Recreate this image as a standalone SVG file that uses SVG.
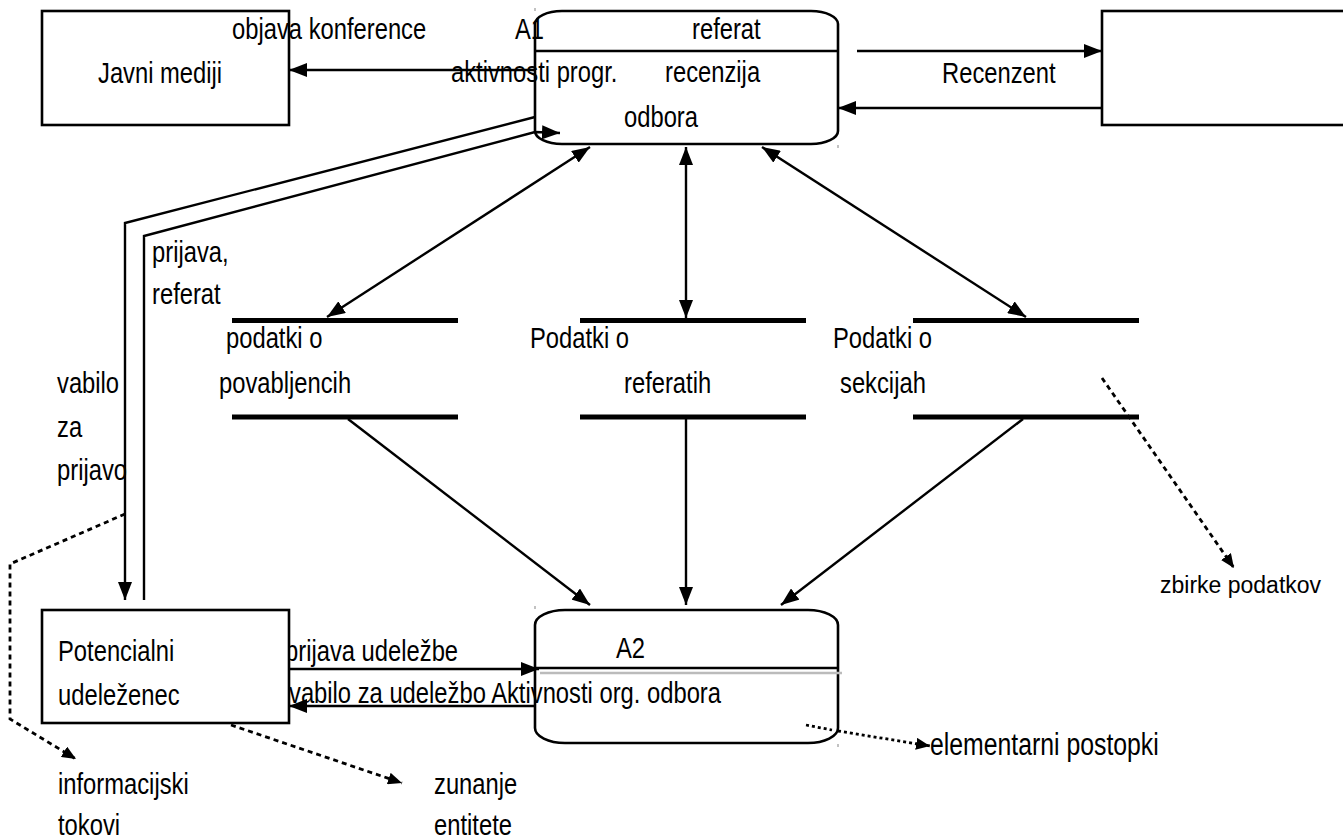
<svg xmlns="http://www.w3.org/2000/svg" width="1343" height="839" viewBox="0 0 1343 839">
<defs>
<marker id="ah" markerUnits="userSpaceOnUse" markerWidth="18" markerHeight="14" refX="18" refY="7" orient="auto-start-reverse" viewBox="0 0 18 14">
<path d="M0,0 L18,7 L0,14 Z" fill="#000"/>
</marker>
<marker id="ahs" markerUnits="userSpaceOnUse" markerWidth="14" markerHeight="12" refX="14" refY="6" orient="auto" viewBox="0 0 14 12">
<path d="M0,0 L14,6 L0,12 Z" fill="#000"/>
</marker>
<style>
.t{font-family:"Liberation Sans",Arial,sans-serif;font-size:29px;fill:#000}
.ts{font-family:"Liberation Sans",Arial,sans-serif;font-size:23px;fill:#000}
.box{fill:#fff;stroke:#000;stroke-width:2.6}
.proc{fill:none;stroke:#000;stroke-width:2.6}
.div{stroke:#000;stroke-width:2.6}
.bar{stroke:#000;stroke-width:5}
.f{fill:none;stroke:#000;stroke-width:2.4}
.a{marker-end:url(#ah)}
.b{marker-start:url(#ah);marker-end:url(#ah)}
.d{fill:none;stroke:#000;stroke-width:2.8;stroke-dasharray:5 4;marker-end:url(#ahs)}
.dt{fill:none;stroke:#000;stroke-width:2.8;stroke-dasharray:3 3;marker-end:url(#ahs)}
.tick{stroke:#999;stroke-width:1.2}
</style>
</defs>
<rect width="1343" height="839" fill="#fff"/>

<g id="javni-mediji">
<rect class="box" x="42" y="11" width="247" height="114"/>
<text class="t" transform="translate(98 83) scale(0.82 1)">Javni mediji</text>
</g>

<g id="recenzent">
<rect class="box" x="1102" y="11" width="260" height="114"/>
</g>

<g id="connector-labels">
<text class="t" transform="translate(232 39) scale(0.82 1)">objava konference</text>
<text class="t" transform="translate(942 83) scale(0.82 1)">Recenzent</text>
<text class="t" transform="translate(152 262) scale(0.82 1)">prijava,</text>
<text class="t" transform="translate(152 304) scale(0.82 1)">referat</text>
<text class="t" transform="translate(57 393) scale(0.82 1)">vabilo</text>
<text class="t" transform="translate(57 437) scale(0.82 1)">za</text>
<text class="t" transform="translate(57 480) scale(0.82 1)">prijavo</text>
<text class="t" transform="translate(285 661) scale(0.82 1)">prijava udeležbe</text>
<text class="t" transform="translate(289 703) scale(0.82 1)">vabilo za udeležbo Aktivnosti org. odbora</text>
</g>

<g id="a1">
<rect class="proc" x="535" y="11" width="303" height="133" rx="27" ry="13"/>
<line class="div" x1="535" y1="51" x2="838" y2="51"/>
<text class="t" transform="translate(515 39) scale(0.82 1)">A1</text>
<text class="t" transform="translate(692 39) scale(0.82 1)">referat</text>
<text class="t" transform="translate(451 82) scale(0.82 1)">aktivnosti progr.</text>
<text class="t" transform="translate(665 82) scale(0.82 1)">recenzija</text>
<text class="t" transform="translate(624 127) scale(0.82 1)">odbora</text>
<line class="tick" x1="535" y1="8" x2="535" y2="11"/>
<line class="tick" x1="838" y1="145" x2="838" y2="148"/>
</g>

<g id="store-povabljenci">
<line class="bar" x1="232" y1="320.5" x2="458" y2="320.5"/>
<line class="bar" x1="232" y1="417" x2="458" y2="417"/>
<text class="t" transform="translate(226 348) scale(0.82 1)">podatki o</text>
<text class="t" transform="translate(219 393) scale(0.82 1)">povabljencih</text>
</g>

<g id="store-referati">
<line class="bar" x1="580" y1="320.5" x2="806" y2="320.5"/>
<line class="bar" x1="580" y1="417" x2="806" y2="417"/>
<text class="t" transform="translate(530 348) scale(0.82 1)">Podatki o</text>
<text class="t" transform="translate(624 393) scale(0.82 1)">referatih</text>
</g>

<g id="store-sekcije">
<line class="bar" x1="913" y1="320.5" x2="1139" y2="320.5"/>
<line class="bar" x1="913" y1="417" x2="1139" y2="417"/>
<text class="t" transform="translate(833 348) scale(0.82 1)">Podatki o</text>
<text class="t" transform="translate(840 393) scale(0.82 1)">sekcijah</text>
</g>

<g id="a2">
<rect class="proc" x="535" y="610" width="303" height="133" rx="30" ry="15"/>
<line class="div" x1="535" y1="668" x2="838" y2="668"/>
<line stroke="#bbb" stroke-width="2.5" x1="540" y1="673" x2="842" y2="673"/>
<text class="t" transform="translate(616 658) scale(0.82 1)">A2</text>
<line class="tick" x1="535" y1="606" x2="535" y2="609"/>
<line class="tick" x1="838" y1="744" x2="838" y2="747"/>
</g>

<g id="connectors">
<path class="f a" d="M535,70 L289,70"/>
<path class="f a" d="M857,51 L1102,51"/>
<path class="f a" d="M1102,108 L838,108"/>
<path class="f a" d="M535,117 L125,223 L125,600"/>
<path class="f a" d="M144,600 L144,236 L535,132 L560,133"/>
<path class="f b" d="M590,147 L327,317"/>
<path class="f b" d="M686,147 L686,318"/>
<path class="f b" d="M762,147 L1026,317"/>
<path class="f a" d="M348,419 L590,605"/>
<path class="f a" d="M686,419 L686,605"/>
<path class="f a" d="M1023,419 L781,605"/>
<path class="f a" d="M289,669 L539,669"/>
<path class="f a" d="M535,706 L289,706"/>
<path class="d" d="M125,514 L10,564 L10,719 L76,759"/>
<path class="d" d="M231,725 L402,783"/>
<path class="dt" d="M806,725 L832,730 M838,731 L930,746"/>
<path class="d" d="M1102,378 L1234,568"/>
</g>

<g id="potencialni-udelezenec">
<rect class="box" x="42" y="610" width="247" height="113"/>
<text class="t" transform="translate(58 661) scale(0.82 1)">Potencialni</text>
<text class="t" transform="translate(58 705) scale(0.82 1)">udeleženec</text>
</g>

<g id="legend">
<text class="t" transform="translate(930 755) scale(0.8 1)" style="font-size:31px">elementarni postopki</text>
<text class="ts" x="1160" y="593">zbirke podatkov</text>
<text class="t" transform="translate(58 794) scale(0.82 1)">informacijski</text>
<text class="t" transform="translate(58 835) scale(0.82 1)">tokovi</text>
<text class="t" transform="translate(434 794) scale(0.82 1)">zunanje</text>
<text class="t" transform="translate(434 835) scale(0.82 1)">entitete</text>
</g>
</svg>
